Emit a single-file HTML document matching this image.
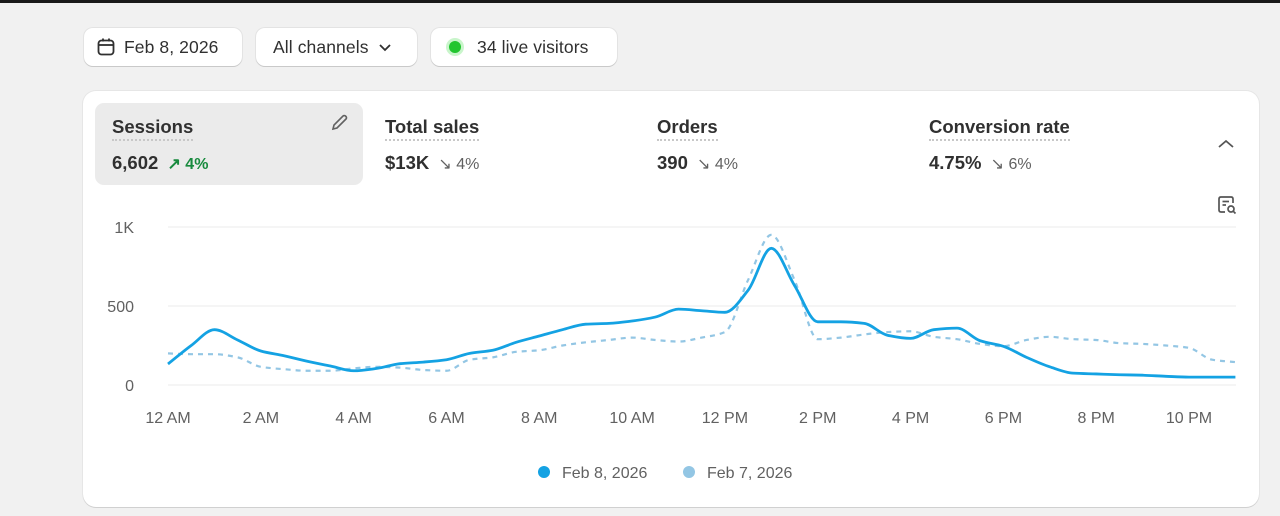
<!DOCTYPE html>
<html><head><meta charset="utf-8"><style>
*{box-sizing:border-box;margin:0;padding:0}
body{width:1280px;height:516px;background:#f1f1f1;font-family:"Liberation Sans",sans-serif;color:#303030;position:relative;overflow:hidden}
.topbar{position:absolute;left:0;top:0;width:1280px;height:3px;background:#1a1a1a}
.btn{position:absolute;top:28px;height:38px;background:#fff;border-radius:9px;box-shadow:0 1px 0 #c9c9c9,0 0 0 1px #e3e3e3;font-size:17.5px;display:flex;align-items:center;color:#303030;font-weight:500;letter-spacing:0.1px}
.card{position:absolute;left:83px;top:91px;width:1176px;height:416px;background:#fff;border-radius:13px;box-shadow:0 1px 0 #d0d0d0,0 0 0 1px #e6e6e6}
.metric{position:absolute;top:12px;height:82px;border-radius:9px}
.metric .t{position:absolute;left:17px;top:13px;font-size:18.5px;font-weight:bold;color:#303030;border-bottom:2px dotted #c8c8c8;padding-bottom:1px}
.metric .v{position:absolute;left:17px;top:49px;font-size:18.5px;font-weight:bold;color:#303030;white-space:nowrap}
.metric .v span{font-weight:normal;font-size:16px;color:#616161;margin-left:4px}
svg text{font-family:"Liberation Sans",sans-serif}
</style></head><body>
<div class="topbar"></div>
<div class="btn" style="left:84px;width:158px">
<svg width="20" height="20" style="margin-left:12px" viewBox="0 0 20 20"><rect x="2.5" y="3.5" width="15" height="14" rx="3" fill="none" stroke="#303030" stroke-width="1.8"/><line x1="2.5" y1="8" x2="17.5" y2="8" stroke="#303030" stroke-width="1.8"/><line x1="7" y1="1.5" x2="7" y2="4.5" stroke="#303030" stroke-width="1.8"/><line x1="13" y1="1.5" x2="13" y2="4.5" stroke="#303030" stroke-width="1.8"/></svg>
<span style="margin-left:8px">Feb 8, 2026</span></div>
<div class="btn" style="left:256px;width:161px"><span style="margin-left:17px">All channels</span>
<svg width="14" height="10" style="margin-left:9px" viewBox="0 0 14 10"><polyline points="2,3 7,8 12,3" fill="none" stroke="#303030" stroke-width="1.8"/></svg></div>
<div class="btn" style="left:431px;width:186px">
<span style="margin-left:18px;width:12px;height:12px;border-radius:50%;background:#22c52f;box-shadow:0 0 0 3px #c9f5cb;display:inline-block"></span>
<span style="margin-left:16px">34 live visitors</span></div>

<div class="card">
<div class="metric" style="left:12px;width:268px;background:#ebebeb">
<div class="t">Sessions</div><div class="v">6,602 <span style="color:#188a3e;font-weight:bold">↗ 4%</span></div>
<svg width="20" height="20" viewBox="0 0 20 20" style="position:absolute;left:234px;top:10px"><path d="M4 16 L5 12 L14 3 Q15.5 2 17 3.5 Q18 5 17 6 L8 15 Z" fill="none" stroke="#616161" stroke-width="1.6"/></svg>
</div>
<div class="metric" style="left:285px;width:260px"><div class="t">Total sales</div><div class="v">$13K <span>↘ 4%</span></div></div>
<div class="metric" style="left:557px;width:260px"><div class="t">Orders</div><div class="v">390 <span>↘ 4%</span></div></div>
<div class="metric" style="left:829px;width:260px"><div class="t">Conversion rate</div><div class="v">4.75% <span>↘ 6%</span></div></div>
<svg width="18" height="12" viewBox="0 0 18 12" style="position:absolute;left:1134px;top:47px"><polyline points="2,9 9,3 16,9" fill="none" stroke="#555" stroke-width="1.8"/></svg>
<svg width="22" height="22" viewBox="0 0 22 22" style="position:absolute;left:1133px;top:103px"><path d="M9 18 H5 Q3 18 3 16 V5 Q3 3 5 3 H15 Q17 3 17 5 V9" fill="none" stroke="#555" stroke-width="1.7"/><line x1="6.5" y1="7.5" x2="13" y2="7.5" stroke="#555" stroke-width="1.7"/><line x1="6.5" y1="11" x2="10" y2="11" stroke="#555" stroke-width="1.7"/><circle cx="15" cy="15" r="3" fill="none" stroke="#555" stroke-width="1.7"/><line x1="17.2" y1="17.2" x2="19.5" y2="19.5" stroke="#555" stroke-width="1.7"/></svg>
</div>

<svg id="chart" width="1280" height="516" style="position:absolute;left:0;top:0"></svg>
<script>
const hours = [0,0.5,1,1.5,2,2.5,3,3.5,4,4.5,5,5.5,6,6.5,7,7.5,8,8.5,9,9.5,10,10.5,11,11.5,12,12.5,13,13.5,14,14.5,15,15.5,16,16.5,17,17.5,18,18.5,19,19.5,20,20.5,21,21.5,22,22.5,23];
const current = [133,250,350,285,215,185,150,120,90,105,135,145,160,200,220,270,310,350,385,390,405,430,480,470,460,600,865,630,400,400,390,315,295,350,360,280,245,175,115,75,70,65,62,55,50,50,50];
const previous = [200,195,195,175,115,100,90,90,105,115,110,95,90,160,175,210,220,250,270,285,300,285,275,300,335,665,950,665,290,300,320,335,340,305,290,260,245,285,305,290,285,265,260,250,235,160,145];
const yTicks = [0,500,1000];
const yTickLabels = ["0","500","1K"];
const xTicks = [0,2,4,6,8,10,12,14,16,18,20,22];
const xTickLabels = ["12 AM","2 AM","4 AM","6 AM","8 AM","10 AM","12 PM","2 PM","4 PM","6 PM","8 PM","10 PM"];
const legendLabels = ["Feb 8, 2026","Feb 7, 2026"];

const NS="http://www.w3.org/2000/svg";
const svg=document.getElementById('chart');
const xs=h=>168+h*(1189-168)/22;
const ys=v=>385-v*(385-227)/1000;
function mk(t,a){const e=document.createElementNS(NS,t);for(const k in a)e.setAttribute(k,a[k]);svg.appendChild(e);return e;}
yTicks.forEach((t,i)=>{
  const l=mk('line',{x1:168,x2:1236,y1:ys(t),y2:ys(t),stroke:'#ebebeb','stroke-width':1});
  
  
  const tx=mk('text',{x:134,y:ys(t)+6,'text-anchor':'end','font-size':16,fill:'#616161'});
  tx.textContent=yTickLabels[i];
  
  
});
xTicks.forEach((t,i)=>{
  const tx=mk('text',{x:xs(t),y:423,'text-anchor':'middle','font-size':16,fill:'#616161'});
  tx.textContent=xTickLabels[i];
  
  
});
function path(vals){
  const p=vals.map((v,i)=>[xs(hours[i]),ys(v)]);
  const n=p.length, d=[], m=[];
  for(let i=0;i<n-1;i++) d.push((p[i+1][1]-p[i][1])/(p[i+1][0]-p[i][0]));
  for(let i=0;i<n;i++){
    if(i===0) m.push(d[0]); else if(i===n-1) m.push(d[n-2]);
    else m.push(d[i-1]*d[i]<=0?0:2/(1/d[i-1]+1/d[i]));
  }
  let s='M'+p[0][0]+','+p[0][1];
  for(let i=0;i<n-1;i++){
    const h=(p[i+1][0]-p[i][0])/3;
    s+=` C${p[i][0]+h},${p[i][1]+m[i]*h} ${p[i+1][0]-h},${p[i+1][1]-m[i+1]*h} ${p[i+1][0]},${p[i+1][1]}`;
  }
  return s;
}
const prev=mk('path',{d:path(previous),fill:'none',stroke:'#93c6e4','stroke-width':2.2,'stroke-dasharray':'5 5'});


const cur=mk('path',{d:path(current),fill:'none',stroke:'#14a2e3','stroke-width':2.8});


const lx=[544,689],lc=['#14a2e3','#93c6e4'];
legendLabels.forEach((lab,i)=>{
  const c=mk('circle',{cx:lx[i],cy:472,r:6,fill:lc[i]});
  
  
  const t=mk('text',{x:lx[i]+18,y:478,'font-size':16,fill:'#616161'});
  t.textContent=lab;
  
  
});
</script>
</body></html>
